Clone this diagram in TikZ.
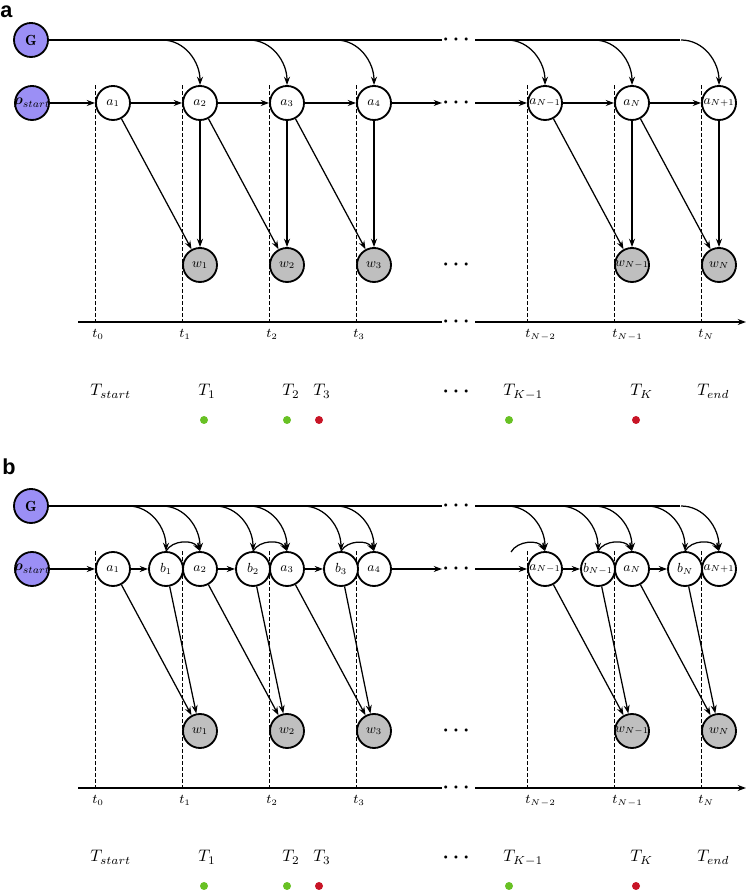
\documentclass[tikz,border=0pt]{standalone}
\usepackage{amsmath}
\usepackage{amssymb}
\usepackage{bm}
\usepackage{graphicx}
\usepackage{xcolor}
\usepackage{fontspec}
\usepackage{tikz}
\usetikzlibrary{arrows.meta}
\newfontfamily\panelfont{Liberation Sans}
\definecolor{SrcBlue}{RGB}{155,143,245}
\definecolor{ObsGray}{RGB}{191,191,191}
\definecolor{DotGreen}{RGB}{104,193,36}
\definecolor{DotRed}{RGB}{200,20,38}
\newcommand{\nlab}[1]{\scalebox{0.88}{$#1$}}

\begin{document}
\begin{tikzpicture}[x=0.6pt, y=0.6pt,
		hid/.style={circle, draw, line width=1.1pt, fill=white, minimum size=20.4pt, inner sep=-4pt, font=\small},
		obs/.style={hid, fill=ObsGray},
		src/.style={hid, fill=SrcBlue, font=\normalsize},
		arr/.style={-{Stealth[length=5pt, width=3.6pt]}, line width=0.75pt},
		plain/.style={line width=0.75pt},
		tdash/.style={line width=0.6pt, dash pattern=on 2.4pt off 1.2pt},
		dts/.style={font=\large, inner sep=0pt},
		panel/.style={anchor=base west, inner sep=0pt, font=\panelfont\bfseries\fontsize{13}{15}\selectfont}
	]
	\useasboundingbox (0,0) rectangle (748,890);
	
	\node[panel] (la) at (0,872) {a};
	\node[panel] (lb) at (2,415) {b};
	
	% parts shared by both panels
	\foreach \p/\dy in {a/0, b/-466} {
		\begin{scope}[shift={(0,\dy)}]
		\node[src] (\p-G) at (31,850) {\nlab{\mathbf{G}}};
		\node[src] (\p-rho) at (32,787) {\nlab{\bm{\rho}_{start}}};
		\foreach \i/\x/\lab in {1/113/a_1, 2/200/a_2, 3/287/a_3, 4/374/a_4, 5/545/a_{N-1}, 6/632/a_N, 7/719/a_{N+1}}
			\node[hid] (\p-a\i) at (\x,787) {\nlab{\lab}};
		\foreach \j/\x/\lab in {1/200/w_1, 2/287/w_2, 3/374/w_3, 4/632/w_{N-1}, 5/719/w_N}
			\node[obs] (\p-w\j) at (\x,625) {\nlab{\lab}};
		
		% G line, state row and time axis, each broken by dots
		\coordinate (\p-g1) at (442,850);
		\coordinate (\p-g2) at (475,850);
		\coordinate (\p-g3) at (680,850);
		\coordinate (\p-r1) at (442,787);
		\coordinate (\p-r2) at (475,787);
		\coordinate (\p-x0) at (78,568);
		\coordinate (\p-x1) at (442,568);
		\coordinate (\p-x2) at (475,568);
		\coordinate (\p-x3) at (746,568);
		\draw[plain] (\p-G) -- (\p-g1);
		\draw[plain] (\p-g2) -- (\p-g3);
		\draw[arr] (\p-rho) -- (\p-a1);
		\draw[arr] (\p-a4) -- (\p-r1);
		\draw[arr] (\p-r2) -- (\p-a5);
		\draw[plain] (\p-x0) -- (\p-x1);
		\draw[arr] (\p-x2) -- (\p-x3);
		\foreach \y in {850,787,625,568,498}
			\node[dts] (\p-dots\y) at (458,\y) {$\bm{\cdots}$};
		
		% time points
		\foreach \i/\x/\lab in {1/92/t_0, 2/179/t_1, 3/266/t_2, 4/353/t_3, 5/525/t_{N-2}, 6/612/t_{N-1}, 7/698/t_N} {
			\draw[tdash] (\p-a\i.west |- \p-a\i.north) -- (\p-a\i.west |- \p-x0);
			\node[anchor=base west, inner sep=0pt, font=\fontsize{7.6}{9}\selectfont] (\p-t\i) at (\x,552) {$\lab$};
		}
		\foreach \k/\x/\lab in {1/90/T_{start}, 2/198/T_1, 3/282/T_2, 4/313/T_3, 5/503/T_{K-1}, 6/630/T_K, 7/697/T_{end}}
			\node[anchor=base west, inner sep=0pt] (\p-T\k) at (\x,494) {$\lab$};
		\foreach \x/\c in {204/DotGreen, 287/DotGreen, 319/DotRed, 509/DotGreen, 636/DotRed}
			\fill[\c] (\x,470) circle (2.4pt);
		\end{scope}
	}
	
	% panel a
	\foreach \i/\k in {1/2, 2/3, 3/4, 5/6, 6/7}
		\draw[arr] (a-a\i) -- (a-a\k);
	\foreach \i in {2,...,7}
		\draw[arr] (a-a\i.north |- a-G.east) ++(-38,0) to[out=0, in=90] (a-a\i.north);
	\foreach \j/\l/\r in {1/1/2, 2/2/3, 3/3/4, 4/5/6, 5/6/7} {
		\draw[arr] (a-a\l) -- (a-w\j);
		\draw[arr] (a-a\r) -- (a-w\j);
	}
	
	% panel b
	\begin{scope}[shift={(0,-466)}]
		\coordinate (b-bprev) at (511,804);
		\foreach \j/\x/\l/\r/\lab in {1/166/1/2/b_1, 2/253/2/3/b_2, 3/341/3/4/b_3, 4/598/5/6/b_{N-1}, 5/685/6/7/b_N} {
			\node[hid] (b-b\j) at (\x,787) {\nlab{\lab}};
			\draw[arr] (b-a\l) -- (b-b\j);
			\draw[arr] (b-b\j.north) to[out=60, in=120] (b-a\r.north);
			\draw[arr] (b-a\l) -- (b-w\j);
			\draw[arr] (b-b\j) -- (b-w\j);
			\draw[arr] (b-b\j.north |- b-G.east) ++(-38,0) to[out=0, in=90] (b-b\j.north);
		}
		\draw[arr] (b-bprev) to[out=60, in=120] (b-a5.north);
		\foreach \i in {2,...,7}
			\draw[arr] (b-a\i.north |- b-G.east) ++(-38,0) to[out=0, in=90] (b-a\i.north);
	\end{scope}
\end{tikzpicture}
\end{document}
